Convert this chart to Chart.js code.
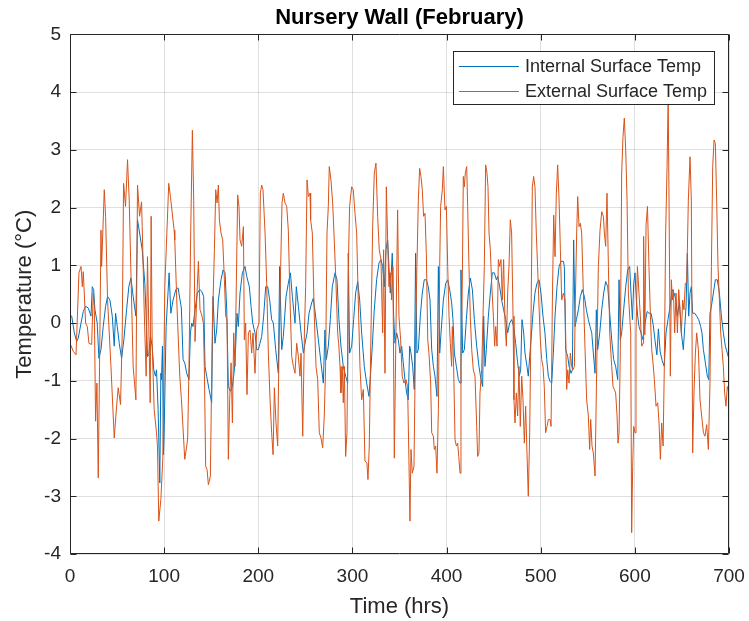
<!DOCTYPE html>
<html>
<head>
<meta charset="utf-8">
<title>Nursery Wall (February)</title>
<script src="https://cdn.jsdelivr.net/npm/chart.js@4.4.1/dist/chart.umd.min.js"></script>
<style>
  html, body { margin: 0; padding: 0; background: #fff; }
  #chart { display: block; }
</style>
</head>
<body>
<canvas id="chart" width="749" height="621"></canvas>
<script>
// values (hours, deg C)
const xTicks = [0, 100, 200, 300, 400, 500, 600, 700];
const yTicks = [-4, -3, -2, -1, 0, 1, 2, 3, 4, 5];

const intHours = [
  0, 1.8, 4.6, 7.1, 8.8, 11.7, 14.1, 16.6, 19.4, 22.3, 23.7, 25.1, 26.5, 28.9, 30.7, 32.9, 35.3, 37.8, 39.9, 42.4,
  44.9, 47, 48.4, 50.2, 52.3, 54.8, 57.2, 60.1, 62.5, 64.7, 67.1, 70, 71.7, 76.7, 79.5, 81.3, 82.3, 83.7, 85.5, 87.3,
  89, 90.8, 91.9, 93.6, 95.4, 96.5, 97.2, 98.2, 99.3, 100, 102.1, 105.3, 107.1, 109.5, 112.4, 114.8, 118.3, 120.1, 121.9, 124,
  126.4, 127.9, 129.3, 130.7, 132.8, 135.3, 137.8, 139.9, 142, 143.4, 145.2, 147.7, 150.5, 151.9, 154, 155.8, 157.6, 160.4, 162.6, 164.7,
  166.5, 168.2, 170.3, 172.5, 174.6, 176, 177.4, 178.8, 180.6, 183.1, 185.9, 187.7, 190.5, 192.3, 194.1, 196.5, 198.3, 200.1, 201.8, 203.6,
  205.7, 207.9, 210, 212.1, 214.2, 216, 218.5, 221.3, 222.7, 224.9, 226.6, 229.5, 231.9, 234.1, 236.2, 239, 240.4, 242.6, 245.4, 247.9,
  249.7, 251.8, 253.9, 256.7, 258.5, 260.9, 263.8, 266.6, 269.1, 270.8, 272.3, 274.4, 276.5, 278.6, 281.5, 283.6, 285.7, 287.8, 290.3, 292.8,
  294.9, 295.6, 297, 299.2, 301.3, 303.4, 305.6, 307.7, 309.8, 312.6, 315.1, 317.6, 319.3, 321.1, 323.2, 325.7, 328.2, 330.3, 332.1, 333.9,
  335.6, 337.4, 338.8, 340.2, 342.3, 343.8, 345.2, 347, 348.7, 350.5, 352.3, 354, 355.8, 357.6, 359.3, 360.8, 362.2, 364, 365.7, 367.1,
  368.5, 370, 372.1, 374.2, 376.3, 378.5, 380.6, 382.4, 384.2, 386, 387.7, 389.8, 391.3, 392.7, 394.1, 396.6, 399.1, 401.2, 403.3, 405.4,
  406.8, 408.3, 410.4, 412.5, 414.3, 415.3, 417.1, 418.9, 421, 423.1, 425.2, 427.4, 429.5, 432, 434.4, 436.6, 438.3, 439.4, 440.8, 442.2,
  444.4, 446.5, 448.6, 450.8, 452.9, 454.3, 456.4, 458.5, 460.6, 462.8, 464.9, 467, 469.1, 471.3, 473.4, 475.5, 477.3, 478.7, 480.1, 481.9,
  483.3, 485.4, 486.8, 488.3, 489.7, 491.8, 493.9, 496, 498.2, 500.3, 502.4, 504.5, 506.4, 508.1, 509.9, 511.7, 513.4, 515.2, 517.3, 519.5,
  521.6, 524.1, 525.1, 526.5, 528.7, 530.1, 532.2, 533.6, 535, 536.5, 537.9, 540, 542.1, 544.2, 546.4, 548.5, 550.6, 552.4, 554.2, 555.9,
  557.7, 559.1, 560.5, 562.7, 564.8, 566.9, 569, 571.2, 573.3, 575.4, 577.5, 579.6, 581.8, 583.2, 584.6, 586, 588.1, 590.3, 592.4, 594.5,
  595.9, 597.4, 598.8, 600.2, 601.6, 603, 604.4, 606.6, 608.7, 610.8, 613.1, 615.1, 617.2, 619.5, 621.4, 623.4, 625, 626.9, 629, 631.2,
  633.1, 635.2, 637.4, 639.5, 641.6, 643.7, 645.2, 647.3, 649.4, 651.5, 653, 654.4, 655.8, 657.2, 658.6, 660, 661.4, 663.6, 665.7, 667.8,
  669.9, 671.3, 672.8, 674.9, 677, 678.5, 679.8, 681.3, 683.4, 685.5, 687.6, 689.8, 691.9, 694, 696.1, 698.2, 700
];
const intTemps = [
  0.14, 0.12, -0.17, -0.32, -0.26, 0, 0.2, 0.29, 0.26, 0.12, 0.63, 0.58, 0.23, 0, -0.61, -0.46, -0.06, 0.29, 0.46, 0.4,
  0.12, -0.4, 0.17, -0.06, -0.35, -0.61, -0.29, 0.23, 0.63, 0.78, 0.46, 0.12, 1.79, 1.27, 0.69, -0.06, -0.58, -0.55, -0.23, -0.4,
  -0.81, -0.92, -0.81, -1.5, -2.77, -0.87, -0.98, -0.4, -2.28, -1.9, -0.06, 0.87, 0.17, 0.4, 0.58, 0.61, 0.26, -0.63, -0.69, -0.87,
  -0.98, -0.17, 0, -0.06, 0.23, 0.52, 0.58, 0.55, 0.46, -0.75, -0.92, -1.15, -1.38, 0.46, -0.35, -0.12, 0.4, 0.75, 0.92, 0.87,
  0.23, -1.1, -1.18, -1.1, -0.81, -0.4, 0.17, -0.06, 0.52, 0.87, 0.98, 0.81, 0.63, 0.29, 0, -0.17, -0.46, -0.46, -0.35, -0.23,
  0.12, 0.63, 0.63, 0.4, 0.06, 0, -0.46, -0.87, 0.98, -0.46, -0.23, 0.46, 0.69, 0.87, 0.46, 0, 0.63, 0.29, -0.17, -0.52,
  -0.35, -0.17, 0.17, 0.35, 0.43, 0.12, -0.29, -0.69, -1.04, -0.12, -0.63, -0.4, 0.06, 0.63, 0.87, 0.75, 0.06, -0.4, -0.75, -0.92,
  -1.04, 1.21, -0.52, -0.4, 0.06, 0.52, 0.72, 0.4, -0.17, -0.75, -1.04, -1.27, -0.87, -0.4, 0.23, 0.75, 1.04, 1.1, 0.98, 0.63,
  1.27, 1.44, 0.98, 0.52, 1.21, 0.12, -0.35, -0.17, -0.29, -0.52, -0.4, -0.69, -0.98, -1.21, -1.33, -0.4, -0.52, -0.75, -1.15, 1.21,
  -0.52, -0.46, 0.12, 0.52, 0.75, 0.75, 0.63, 0.4, -0.46, -0.75, -0.92, -1.27, 0.98, -0.52, -0.17, 0.4, 0.69, 0.75, 0.58, 0.35,
  0.06, -0.52, -0.75, -0.98, -1.04, 0.92, -0.52, -0.46, 0.06, 0.52, 0.78, 0.58, 0.06, -0.4, -0.75, -0.98, -1.1, 0.12, -0.75, -0.46,
  0.12, 0.52, 0.87, 0.87, 0.75, 0.81, 0.63, 0.4, 0.23, 0.06, -0.17, 0, 0.06, -0.06, -0.35, -0.69, -0.92, -0.81, 0.06, -0.17,
  -0.52, -0.75, -0.92, -0.58, -0.29, 0.17, 0.52, 0.69, 0.75, 0.52, 0.12, -0.17, -0.63, -0.92, -1.01, -1.04, -0.52, 0.12, 0.63, 0.98,
  1.07, 1.07, 0.98, -0.46, -0.58, -0.75, -0.87, -0.81, 1.44, -0.06, 0.06, 0.23, 0.46, 0.58, 0.46, 0.23, 0.06, -0.06, -0.17, -0.52,
  -0.87, 0.23, -0.46, -0.17, 0.23, 0.52, 0.72, 0.63, 0.17, -0.29, -0.63, -0.75, -0.98, 0.75, -0.29, -0.17, 0.23, 0.63, 0.92, 0.98,
  0.52, 0.06, 0.69, 0.87, 0.4, 0.12, -0.06, -0.17, -0.29, 0, 0.2, 0.17, 0.17, -0.03, -0.3, -0.55, -0.1, -0.5, -0.65, -0.75,
  -0.17, 0.06, 0.29, 0.58, 0.52, 0.4, 0.12, 0.35, -0.17, -0.46, -0.06, 0.29, 1.21, 0.12, 0.52, 0.63, 0.17, 0.17, 0.12, 0.06,
  -0.06, -0.17, -0.46, -0.69, -0.92, -0.98, 0.17, 0.29, 0.52, 0.75, 0.75, 0.52, 0.12, -0.17, -0.4, -0.52, -0.63
];

const extHours = [
  0, 3.5, 6.4, 9.5, 11.7, 13.1, 14.1, 16.6, 18.4, 20.1, 23, 24.7, 25.8, 27.2, 28.6, 30, 31.4, 32.9, 33.6, 36.4,
  37.8, 39.9, 43.5, 47, 49.5, 51.2, 53.7, 55.5, 56.9, 59, 61.1, 62.9, 65.4, 67.1, 70, 71.7, 73.9, 76, 76.7, 78.8,
  80.9, 82.3, 85.2, 86.2, 87.3, 89.4, 91.9, 92.9, 94.3, 96.5, 98.6, 100.7, 104.9, 106.7, 110.6, 111.3, 113.4, 116.6, 118.4, 121.9,
  124, 125, 126.4, 128.2, 130, 131.4, 132.8, 134.6, 136.4, 138.1, 139.9, 141.7, 142.7, 144.1, 145.6, 147, 149.1, 151.2, 153.4, 154.8,
  156.2, 157.6, 158.7, 160.4, 162.2, 164, 165.4, 166.8, 168.2, 169.6, 171.1, 172.5, 173.9, 175.3, 176.7, 178.1, 179.5, 180.6, 182.4, 184.2,
  185.2, 186.6, 188, 189.5, 191.2, 193, 194.4, 196.5, 198.3, 200.8, 202.2, 203.6, 205, 207.2, 208.9, 210.7, 212.5, 214.2, 215.7, 217.1,
  218.8, 220.6, 222, 223.8, 225.2, 226.6, 228.4, 230.2, 231.9, 233.7, 235.5, 237.3, 239, 240.8, 242.6, 244.3, 245.4, 247.2, 249, 250.3,
  251.8, 253.2, 255, 255.6, 257.4, 259.5, 261.3, 263.1, 264.8, 266.6, 268.4, 270.1, 271.5, 273, 274.4, 275.4, 277.2, 279, 280.7, 282.5,
  284.3, 285.4, 286.8, 287.8, 289.2, 290.3, 291.4, 292.8, 294.2, 296, 297, 299.2, 300.9, 302.7, 304.5, 306.2, 308, 309.8, 311.6, 313.3,
  315.4, 316.5, 317.9, 319.7, 321.5, 323.2, 325, 326.8, 328.5, 330.3, 332.1, 333.1, 334.6, 336, 337.4, 338.8, 340.2, 341.6, 343, 344.5,
  346.2, 348, 349.4, 351.2, 352.9, 354.7, 356.9, 358.6, 360, 361.1, 362.2, 363.6, 365.4, 367.1, 368.5, 370, 371.4, 372.8, 374.2, 375.6,
  377.1, 378.5, 380, 381.3, 383.1, 384.2, 386, 387, 388.4, 389.8, 391.3, 392.7, 393.7, 395.5, 396.6, 398.3, 399.8, 401.2, 402.6, 404,
  405.4, 406.1, 407.5, 409, 410.4, 411.8, 412.9, 414.3, 415.3, 416.7, 417.8, 418.9, 419.9, 421.4, 422.4, 423.8, 425.2, 426.7, 428.4, 430.2,
  432, 433, 434.4, 435.5, 437.3, 438.7, 440.1, 441.5, 442.9, 444, 445.1, 446.5, 447.9, 449.7, 451.1, 452.2, 453.6, 455, 456.4, 457.8,
  459.2, 460.6, 462.1, 463.5, 464.9, 466.3, 467.7, 469.1, 470.6, 471.6, 472.7, 474.1, 475.5, 476.9, 478.3, 479.8, 481.2, 482.6, 484, 485.4,
  486.8, 488.3, 489.7, 491.1, 492.5, 493.9, 495.3, 496.7, 498.2, 499.6, 501, 502.4, 503.8, 505.2, 506.7, 508.1, 509.9, 511, 512.4, 513.8,
  515.2, 516.6, 518, 519.5, 520.9, 522.3, 524.1, 525.8, 527.6, 528.7, 530.1, 531.5, 532.9, 534.3, 535.8, 536.8, 538.2, 539.3, 540.7, 542.1,
  543.5, 545.3, 547.1, 548.8, 550.6, 552, 553.1, 554.5, 555.9, 557.7, 559.5, 561.2, 563, 564.8, 566.6, 567.6, 569, 570.4, 571.9, 573.3,
  575.4, 576.8, 578.2, 579.6, 581.1, 582.1, 583.2, 584.6, 586, 587.4, 588.8, 590.3, 591.7, 593.1, 594.5, 595.6, 596.6, 597.7, 598.8, 600.2,
  601.2, 602.7, 604.4, 605.8, 607.3, 608.7, 609.3, 610.6, 611.9, 613.4, 615, 616.5, 617.9, 619.3, 620.7, 622.5, 624.3, 625.7, 627.1, 628.5,
  630, 631.3, 632.7, 634.2, 635.4, 636.3, 637.7, 638.8, 639.8, 640.9, 642.3, 643.7, 645.2, 646.6, 648, 649.4, 650.8, 652.2, 653.6, 655.1,
  656.8, 658.6, 660, 661.4, 662.8, 664.3, 665.7, 667.5, 669.2, 671, 672.8, 674.5, 676.3, 678.1, 679.8, 681.3, 682.7, 684.1, 685.5, 686.9,
  688.3, 689.8, 691.2, 692.6, 694, 695.4, 696.8, 698.2, 700
];
const extTemps = [
  -0.35, -0.49, -0.55, 0.87, 0.98, 0.63, 0.89, 0, -0.06, -0.35, -0.37, 0.52, 0.29, -1.7, -1.04, -2.68, -0.75, 1.61, 0.98, 2.31,
  1.85, 0.4, -0.75, -1.99, -1.44, -1.12, -1.41, -0.17, 2.42, 2.02, 2.83, 2.13, 0.4, -0.75, -1.33, 2.39, 1.85, 2.1, 1.67, 0.23,
  -0.92, 1.15, -1.38, 1.85, -0.35, -1.5, -1.9, -2.13, -3.43, -3.06, -2.34, 0.63, 2.42, 2.19, 1.61, 1.44, 0.4, -0.92, -1.33, -2.36,
  -2.13, -1.99, -0.75, 1.56, 3.34, 2.13, -0.32, 0.4, 1.07, 0.23, 0.14, 0, -0.75, -2.48, -2.54, -2.8, -2.65, -0.06, 1.27, 2.31,
  2.08, 2.39, 1.79, 1.56, 1.44, 0.75, 0.12, 0.06, -2.36, -1.33, -0.69, -1.73, -0.17, -0.75, 0.69, 2.22, 2.02, 1.44, 1.33, 1.67,
  -0.29, 0, -1.24, -0.17, -0.12, -0.52, -0.17, -0.87, -0.12, 0, 2.25, 2.39, 2.31, 1.56, 0.69, -0.52, -1.33, -1.9, -2.28, -1.12,
  -1.73, -2.13, -0.46, 0.98, 2.08, 2.25, 2.08, 2.02, 1.61, 0.4, -0.58, -0.75, -0.87, -0.35, -0.58, -0.92, -0.52, -1.96, -0.17, 0.63,
  2.48, 2.19, 2.25, 1.79, 1.56, 0.12, -0.75, -0.98, -1.9, -1.99, -2.16, -1.61, -0.75, 1.56, 2.02, 2.71, 2.48, 2.08, 1.44, 0.69,
  -0.17, -0.35, -0.75, -1.21, -0.75, -1.38, -0.75, -2.31, -1.9, 1.27, 2.02, 2.36, 2.31, 1.9, 1.56, 0.4, -0.75, -1.33, -1.15, -2.39,
  -2.42, -2.71, -2.13, -0.17, 1.67, 2.6, 2.77, 1.85, 1.27, 1.1, -0.17, 1.27, -0.87, 2.36, 1.44, 0.63, 0.87, 0.4, 0.98, -2.34,
  -0.17, 1.96, 0.12, -0.29, -0.92, -1.04, -0.98, -1.1, -2.36, -3.43, -2.19, -2.6, -2.48, -0.17, 0.98, 2.13, 2.68, 2.54, 2.31, 1.85,
  1.9, 1.2, -0.29, -0.52, -1.04, -1.9, -1.96, -2.19, -2.13, -2.6, -1.5, 0.98, 2.02, 2.31, 2.71, 1.96, 2.02, 0.98, 0.12, -0.35,
  -0.75, -0.06, -0.75, -2.02, -2.13, -2.08, -2.31, -2.6, -0.75, 0.69, 2.54, 2.36, 2.6, 2.71, 2.02, 0.98, 0.12, -0.46, -0.81, -0.92,
  -1.79, -2.31, -2.25, -1.21, -0.81, 0.12, 0.98, 2.74, 2.6, 2.36, 1.56, 1.27, 0.69, 0.12, -0.4, -0.06, -0.4, 1.1, 0.98, 1.1,
  0.4, 1.1, 0, -0.4, 0.52, 0.98, 1.79, 1.56, 0.12, -1.33, -1.73, -1.21, -1.61, -0.75, -1.79, -0.92, -1.33, -2.08, -1.44, -2.25,
  -3, -1.9, 0.06, 2.36, 2.54, 2.36, 1.56, 0.98, 0.29, -0.29, -0.63, -0.75, -1.1, -1.9, -1.79, -1.67, -1.67, -1.79, 0.4, 1.87,
  1.15, 2.25, 2.74, 2.13, 1.27, 0.4, 0.52, 0.4, -1.15, -0.81, -1.04, -0.52, -0.75, -0.81, -0.75, 0.4, 1.56, 2.19, 1.67, 1.73,
  1.56, 0.52, -0.46, -1.33, -1.61, -2.19, -1.67, -2.13, -2.25, -2.65, -0.75, 0.98, 1.61, 1.93, 1.85, 1.56, 1.33, 2.25, 0.98, -0.17,
  -0.75, -1.1, -1.15, -1.21, -1.61, -2.08, -1.9, -0.46, 2.6, 3.23, 3.55, 3, 2.13, 0.52, 0.12, -0.17, -3.63, -2.48, -1.79, -1.9,
  -0.17, 0.98, 0.52, 0.12, -0.4, -0.35, 1.5, -0.2, 1.7, 2.02, 0.98, 0.12, -0.46, -0.69, -0.98, -1.44, -1.38, -1.73, -2.36, -1.73,
  -2.13, -0.75, 1.56, 2.71, 3.92, 2.13, -0.92, 0.75, 0.4, 0.58, -0.17, 0.52, -0.17, 0.58, 0.23, -0.17, 0.4, 0.23, 0.69, 0.69,
  2.13, 2.88, 2.13, -2.25, -1.21, -0.52, -0.17, -0.46, -1.33, -1.61, -1.9, -1.96, -1.76, -2.19, -1.04, 0.98, 2.71, 3.17, 3.11, 2.13,
  0.98, 0.4, -0.17, -0.46, -0.75, -1.21, -1.44, -1.1, -1.21
];

const seriesNames = ['Internal Surface Temp', 'External Surface Temp'];
const seriesColors = ['#0072BD', '#D95319'];

const FONT = '"Liberation Sans", Arial, Helvetica, sans-serif';
const INK = '#262626';
const GRID = 'rgba(38,38,38,0.15)';

Chart.defaults.font.family = FONT;
Chart.defaults.color = INK;

const toPoints = (hours, temps) => hours.map((h, i) => ({ x: h, y: temps[i] }));

// MATLAB style box with inward tick marks
const boxPlugin = {
  id: 'box',
  afterDatasetsDraw(chart) {
    const { ctx, chartArea: a, scales: { x, y } } = chart;
    const l = Math.round(a.left) + 0.5, r = Math.round(a.right) - 0.5;
    const t = Math.round(a.top) + 0.5, b = Math.round(a.bottom) - 0.5;
    ctx.save();
    ctx.strokeStyle = INK;
    ctx.lineWidth = 1;
    ctx.beginPath();
    ctx.rect(l, t, r - l, b - t);
    xTicks.forEach(v => {
      const px = Math.round(x.getPixelForValue(v)) + 0.5;
      ctx.moveTo(px, b); ctx.lineTo(px, b - 6);
      ctx.moveTo(px, t); ctx.lineTo(px, t + 6);
    });
    yTicks.forEach(v => {
      const py = Math.round(y.getPixelForValue(v)) + 0.5;
      ctx.moveTo(l, py); ctx.lineTo(l + 6, py);
      ctx.moveTo(r, py); ctx.lineTo(r - 6, py);
    });
    ctx.stroke();
    ctx.restore();
  }
};

// legend box inside the axes, top right
const legendPlugin = {
  id: 'insideLegend',
  afterDraw(chart) {
    const { ctx, chartArea: a } = chart;
    const sets = chart.data.datasets;
    ctx.save();
    ctx.font = '18px ' + FONT;
    const maxW = Math.max(...sets.map(d => ctx.measureText(d.label).width));
    const right = a.right - 15, top = a.top + 17;
    const left = right - 7 - maxW - 72;
    const rowH = 24.7, h = 53;
    ctx.fillStyle = '#fff';
    ctx.fillRect(left, top, right - left, h);
    ctx.strokeStyle = INK;
    ctx.lineWidth = 1;
    ctx.strokeRect(Math.round(left) + 0.5, Math.round(top) + 0.5, Math.round(right - left), Math.round(h));
    sets.forEach((d, i) => {
      const cy = top + 15 + i * rowH;
      ctx.strokeStyle = d.borderColor;
      ctx.lineWidth = 1;
      ctx.beginPath();
      ctx.moveTo(left + 6, Math.round(cy) + 0.5);
      ctx.lineTo(left + 66, Math.round(cy) + 0.5);
      ctx.stroke();
      ctx.fillStyle = INK;
      ctx.textBaseline = 'middle';
      ctx.textAlign = 'left';
      ctx.fillText(d.label, left + 72, cy + 1);
    });
    ctx.restore();
  }
};

new Chart(document.getElementById('chart'), {
  type: 'line',
  data: {
    datasets: [
      { label: seriesNames[0], data: toPoints(intHours, intTemps), borderColor: seriesColors[0], order: 1 },
      { label: seriesNames[1], data: toPoints(extHours, extTemps), borderColor: seriesColors[1], order: 0 }
    ]
  },
  options: {
    responsive: false,
    animation: false,
    parsing: false,
    elements: {
      point: { radius: 0, hoverRadius: 0 },
      line: { borderWidth: 1, tension: 0, fill: false }
    },
    layout: { padding: 0 },
    plugins: {
      legend: { display: false },
      tooltip: { enabled: false },
      title: {
        display: true,
        fullSize: false,
        text: 'Nursery Wall (February)',
        color: '#000',
        font: { size: 22, weight: 'bold' },
        padding: { top: 5, bottom: 3 }
      }
    },
    scales: {
      x: {
        type: 'linear',
        min: 0,
        max: 700,
        afterBuildTicks: s => { s.ticks = xTicks.map(v => ({ value: v })); },
        afterFit: s => { s.height = 67; s.paddingRight = 20; s.paddingLeft = 0; },
        ticks: { color: INK, font: { size: 19 }, padding: 11, maxRotation: 0 },
        grid: { color: GRID, drawTicks: false },
        border: { display: false },
        title: { display: true, text: 'Time (hrs)', color: INK, font: { size: 22 }, padding: { top: 0, bottom: 1 } }
      },
      y: {
        type: 'linear',
        min: -4,
        max: 5,
        afterBuildTicks: s => { s.ticks = yTicks.map(v => ({ value: v })); },
        afterFit: s => { s.width = 70; },
        ticks: { color: INK, font: { size: 19 }, padding: 9 },
        grid: { color: GRID, drawTicks: false },
        border: { display: false },
        title: { display: true, text: 'Temperature (°C)', color: INK, font: { size: 22 }, padding: { top: 12, bottom: 0 } }
      }
    }
  },
  plugins: [boxPlugin, legendPlugin]
});
</script>
</body>
</html>
